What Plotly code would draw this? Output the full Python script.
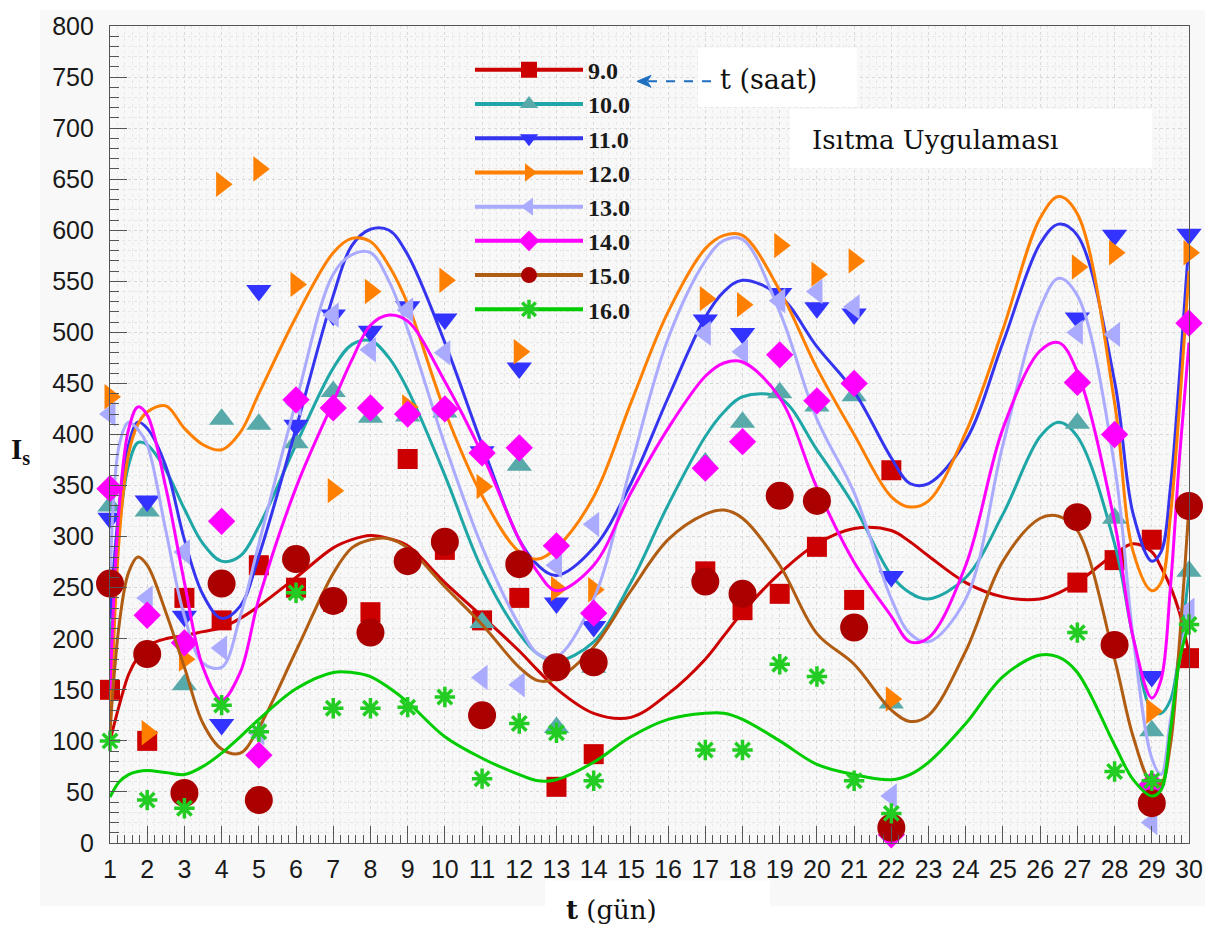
import plotly.graph_objects as go

# ---- measured points (days with measurements) ----
days = [1, 2, 3, 4, 5, 6, 7, 8, 9, 10, 11, 12, 13, 14, 17, 18, 19, 20, 21, 22, 27, 28, 29, 30]

s09 = [150, 100, 240, 218, 272, 250, 236, 226, 376, 287, 218, 240, 55, 87, 266, 228, 244, 290, 238, 365, 255, 277, 297, 181]
s10 = [330, 325, 155, 415, 410, 392, 442, 417, 418, 422, 216, 370, 113, 172, 372, 412, 441, 428, 438, 137, 411, 318, 110, 266]
s11 = [318, 335, 222, 116, 541, 409, 517, 501, 525, 513, 383, 465, 235, 212, 512, 499, 538, 524, 518, 261, 514, 595, 163, 596]
s12 = [437, 108, 180, 645, 660, 547, 345, 540, 427, 551, 349, 481, 249, 248, 533, 527, 585, 557, 570, 141, 564, 578, 129, 578]
s13 = [420, 240, 285, 191, 108, 430, 517, 483, 522, 480, 162, 155, 272, 312, 499, 481, 531, 540, 525, 46, 500, 498, 20, 228]
s14 = [347, 223, 196, 315, 86, 434, 426, 426, 420, 425, 382, 387, 291, 225, 367, 393, 478, 433, 450, 8, 451, 400, 57, 509]
s15 = [254, 185, 49, 254, 42, 278, 237, 206, 276, 295, 125, 273, 172, 177, 256, 244, 340, 335, 211, 15, 319, 194, 39, 330]
s16 = [100, 42, 34, 135, 109, 245, 132, 132, 133, 143, 63, 117, 108, 61, 91, 91, 175, 163, 61, 29, 206, 70, 61, 214]

# ---- fitted curves, sampled along the day axis ----
cx = [1, 1.25, 1.5, 1.75, 2, 2.5, 3, 3.5, 4, 4.5, 5, 6, 7, 7.5, 8, 8.5, 9, 10, 11, 12, 12.5, 13,
      14, 15, 16, 17, 17.5, 18, 19, 20, 21, 22, 22.5, 23, 24, 25, 26, 26.5, 27, 28, 28.5, 29,
      29.25, 29.5, 29.75, 30]

c09 = [100, 135, 165, 182, 193, 200, 203, 207, 211, 220, 232, 260, 289, 297, 301, 298, 291, 255, 222, 188, 169, 151,
       127, 123, 146, 180, 203, 226, 264, 293, 308, 306, 295, 281, 255, 241, 239, 245, 255, 283, 293, 285,
       270, 251, 225, 185]
c10 = [190, 310, 370, 392, 390, 365, 327, 293, 276, 281, 310, 390, 465, 488, 492, 475, 444, 360, 268, 205, 185, 178,
       197, 255, 331, 398, 422, 437, 436, 385, 330, 262, 245, 239, 260, 322, 398, 412, 398, 293, 201, 130,
       127, 140, 190, 265]
c11 = [220, 330, 390, 412, 406, 369, 297, 243, 220, 232, 281, 406, 536, 585, 601, 600, 576, 490, 390, 297, 272, 262,
       289, 352, 436, 515, 540, 551, 536, 486, 442, 377, 352, 352, 394, 490, 587, 606, 595, 452, 322, 276,
       285, 348, 460, 590]
c12 = [100, 300, 381, 410, 422, 428, 406, 390, 385, 402, 440, 515, 578, 592, 589, 565, 528, 423, 340, 285, 278, 289,
       339, 431, 520, 582, 595, 595, 541, 465, 400, 339, 329, 335, 402, 503, 612, 633, 616, 431, 285, 247,
       255, 320, 430, 560]
c13 = [250, 390, 412, 405, 390, 306, 222, 176, 172, 222, 293, 432, 557, 576, 578, 550, 503, 390, 290, 213, 185, 182,
       239, 369, 494, 570, 590, 591, 520, 415, 343, 239, 205, 197, 239, 390, 524, 553, 536, 369, 201, 83,
       67, 120, 180, 230]
c14 = [150, 330, 405, 427, 419, 348, 255, 172, 140, 167, 239, 348, 432, 473, 507, 517, 511, 452, 381, 297, 265, 247,
       272, 343, 406, 457, 470, 471, 436, 348, 275, 222, 197, 201, 272, 406, 482, 490, 461, 314, 201, 142,
       160, 250, 380, 490]
c15 = [110, 215, 265, 280, 272, 226, 172, 117, 92, 88, 113, 188, 264, 289, 297, 298, 289, 251, 214, 172, 159, 161,
       192, 247, 297, 322, 326, 318, 272, 205, 175, 130, 119, 125, 188, 276, 318, 320, 306, 180, 104, 58,
       58, 96, 200, 330]
c16 = [45, 60, 67, 70, 71, 69, 67, 75, 88, 104, 121, 151, 167, 167, 163, 152, 138, 104, 83, 67, 61, 62,
       79, 104, 121, 127, 127, 121, 100, 77, 67, 62, 67, 79, 117, 163, 184, 182, 167, 96, 62, 46,
       52, 110, 180, 215]

labels = ["9.0", "10.0", "11.0", "12.0", "13.0", "14.0", "15.0", "16.0"]
points = [s09, s10, s11, s12, s13, s14, s15, s16]
curves = [c09, c10, c11, c12, c13, c14, c15, c16]

# style per hour: (line colour, marker colour, symbol, marker size)
styles = [
    ("#cc0000", "#cc0000", "square", 20),
    ("#1fa6a6", "#58a9a9", "triangle-up", 22),
    ("#3535f0", "#3333ff", "triangle-down", 22),
    ("#ff8000", "#ff8000", "triangle-right", 22),
    ("#aaaaff", "#aaaaff", "triangle-left", 22),
    ("#ff00ff", "#ff00ff", "diamond", 21),
    ("#b05c12", "#aa0000", "circle", 28),
    ("#00cc00", "#22cc22", "asterisk-open", 17),
]

W, H = 1227, 937
L, R, T, B = 110, 1189, 16, 843


def fx(p):
    return (p - L) / (R - L)


def fy(p):
    return (B - p) / (B - T)


def marker_dict(mc, sym, size):
    if sym.startswith("asterisk"):
        return dict(symbol=sym, size=size, color=mc, line=dict(color=mc, width=3.5))
    return dict(symbol=sym, size=size, color=mc, line=dict(width=0))


fig = go.Figure()

for name, pts, cv, (lc, mc, sym, ms) in zip(labels, points, curves, styles):
    fig.add_trace(go.Scatter(
        x=cx, y=cv, mode="lines", line=dict(color=lc, width=3, shape="spline", smoothing=1.0),
        showlegend=False, hoverinfo="skip", cliponaxis=False))
    fig.add_trace(go.Scatter(
        x=days, y=pts, mode="markers", marker=marker_dict(mc, sym, ms),
        showlegend=False, cliponaxis=False, name=name))

# legend entries (line + symbol)
for name, (lc, mc, sym, ms) in zip(labels, styles):
    fig.add_trace(go.Scatter(
        x=[None], y=[None], mode="lines+markers",
        line=dict(color=lc, width=4), marker=marker_dict(mc, sym, ms),
        name="<b>%s</b>" % name, showlegend=True))

axis_common = dict(
    showline=True, linecolor="#555555", linewidth=1.2, mirror=True,
    ticks="inside", ticklen=17, tickwidth=1.2, tickcolor="#555555",
    tickfont=dict(family="Liberation Sans, Arial", size=25, color="#1a1a1a"),
    showgrid=True, gridcolor="#d9d9d9", griddash="dot", gridwidth=1,
    zeroline=False,
)

fig.update_xaxes(
    range=[1, 30], tickmode="linear", tick0=1, dtick=1, ticklabelstandoff=4,
    minor=dict(ticks="inside", ticklen=8, tickcolor="#555555", dtick=0.2,
               showgrid=True, gridcolor="#e9e9e9", griddash="dot"),
    **axis_common)
fig.update_yaxes(
    range=[0, 800], tickmode="linear", tick0=0, dtick=50, ticklabelstandoff=10,
    minor=dict(ticks="inside", ticklen=9, tickcolor="#555555", dtick=10,
               showgrid=True, gridcolor="#e6e6e6", griddash="dot"),
    **axis_common)

arrow_tip = (637, 72)
shapes = [
    # light grey panel behind the chart
    dict(type="rect", xref="paper", yref="paper", x0=fx(40), x1=fx(1205), y0=fy(907), y1=fy(0),
         fillcolor="#f8f8f8", line=dict(width=0), layer="below"),
    # white label boxes
    dict(type="rect", xref="paper", yref="paper", x0=fx(698), x1=fx(857), y0=fy(98), y1=fy(38),
         fillcolor="white", line=dict(width=0), layer="above"),
    dict(type="rect", xref="paper", yref="paper", x0=fx(790), x1=fx(1152), y0=fy(160), y1=fy(100),
         fillcolor="white", line=dict(width=0), layer="above"),
    dict(type="rect", xref="paper", yref="paper", x0=fx(545), x1=fx(770), y0=fy(937), y1=fy(881),
         fillcolor="white", line=dict(width=0), layer="above"),
    # dashed pointer towards the legend, with its head
    dict(type="line", xref="paper", yref="paper", x0=fx(648), x1=fx(713), y0=fy(72), y1=fy(72),
         line=dict(color="#1f6fc0", width=2, dash="dash"), layer="above"),
    dict(type="path", xref="paper", yref="paper",
         path="M %f,%f L %f,%f L %f,%f L %f,%f Z" % (
             fx(arrow_tip[0]), fy(arrow_tip[1]),
             fx(arrow_tip[0] + 14), fy(arrow_tip[1] - 6),
             fx(arrow_tip[0] + 10), fy(arrow_tip[1]),
             fx(arrow_tip[0] + 14), fy(arrow_tip[1] + 6)),
         fillcolor="#1f6fc0", line=dict(color="#1f6fc0", width=1), layer="above"),
]

annotations = [
    dict(text="t (saat)", x=fx(768), y=fy(70), xref="paper", yref="paper", xanchor="center",
         yanchor="middle", showarrow=False,
         font=dict(family="DejaVu Serif", size=27, color="#111111")),
    dict(text="Isıtma Uygulaması", x=fx(935), y=fy(131), xref="paper", yref="paper",
         xanchor="center", yanchor="middle", showarrow=False,
         font=dict(family="DejaVu Serif", size=26, color="#111111")),
    dict(text="<b>I<sub>s</sub></b>", x=fx(20), y=fy(446), xref="paper", yref="paper",
         xanchor="center", yanchor="middle", showarrow=False,
         font=dict(family="Liberation Serif", size=29, color="#111111")),
    dict(text="<b>t</b> (gün)", x=fx(611), y=fy(911), xref="paper", yref="paper",
         xanchor="center", yanchor="middle", showarrow=False,
         font=dict(family="DejaVu Serif", size=26, color="#111111")),
]

fig.update_layout(
    width=W, height=H,
    margin=dict(l=L, r=W - R, t=T, b=H - B, pad=0),
    paper_bgcolor="white", plot_bgcolor="#f9f9f9",
    shapes=shapes, annotations=annotations,
    legend=dict(x=fx(470), y=fy(38), xanchor="left", yanchor="top",
                bgcolor="rgba(0,0,0,0)", borderwidth=0,
                font=dict(family="Liberation Serif", size=24, color="#1a1a1a"),
                itemsizing="trace", itemwidth=108, tracegroupgap=0),
    showlegend=True,
)

fig.write_html("out.html")
